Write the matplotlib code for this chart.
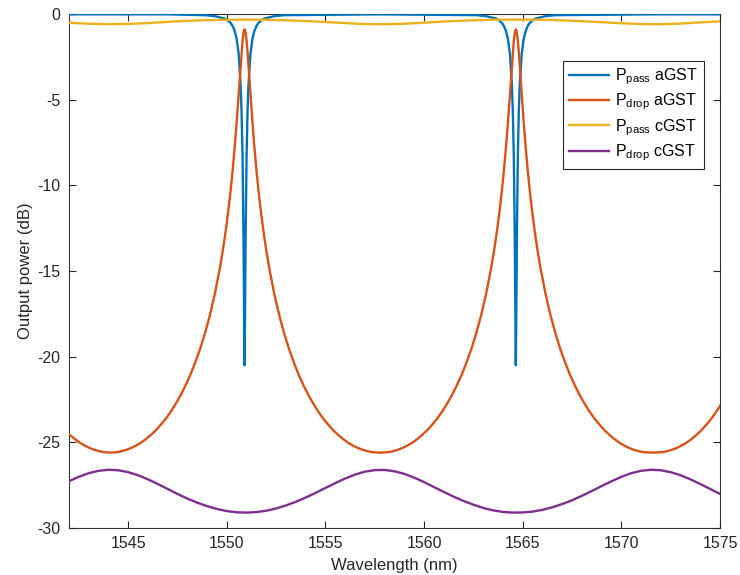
import matplotlib
matplotlib.use("Agg")
import matplotlib.pyplot as plt

# --- values (dB vs nm) ---

# P_pass, amorphous GST (blue, sharp notches)
wl_pass_a = [1542.0, 1547.0, 1548.9, 1549.4, 1549.9, 1550.05, 1550.2, 1550.3, 1550.4,
             1550.5, 1550.6, 1550.7, 1550.75, 1550.8, 1550.85, 1550.875, 1550.9,
             1550.925, 1550.95, 1551.0, 1551.05, 1551.1, 1551.2, 1551.3, 1551.4,
             1551.5, 1551.6, 1551.75, 1551.9, 1552.4, 1552.9, 1557.78,
             1562.65, 1563.15, 1563.65, 1563.8, 1563.95, 1564.05, 1564.15,
             1564.25, 1564.35, 1564.45, 1564.5, 1564.55, 1564.6, 1564.625, 1564.65,
             1564.675, 1564.7, 1564.75, 1564.8, 1564.85, 1564.95, 1565.05, 1565.15,
             1565.25, 1565.35, 1565.5, 1565.65, 1566.15, 1566.65, 1571.6, 1575.0]
pass_a_db = [-0.02, -0.02, -0.07, -0.13, -0.27, -0.37, -0.53, -0.71, -0.99,
             -1.45, -2.31, -4.10, -5.75, -8.46, -13.4, -17.3, -20.5,
             -17.3, -13.4, -8.46, -5.75, -4.10, -2.31, -1.45, -0.99,
             -0.71, -0.53, -0.37, -0.27, -0.13, -0.07, -0.02,
             -0.07, -0.13, -0.27, -0.37, -0.53, -0.71, -0.99,
             -1.45, -2.31, -4.10, -5.75, -8.46, -13.4, -17.3, -20.5,
             -17.3, -13.4, -8.46, -5.75, -4.10, -2.31, -1.45, -0.99,
             -0.71, -0.53, -0.37, -0.27, -0.13, -0.07, -0.02, -0.02]

# P_drop, amorphous GST (orange)
wl_drop_a = [
    # left edge -> first minimum
    1542.0, 1542.3, 1542.55, 1542.8, 1543.05, 1543.3, 1543.55, 1543.75, 1544.1,
    # rising to peak 1
    1544.45, 1544.65, 1544.9, 1545.15, 1545.4, 1545.65, 1545.9, 1546.15, 1546.4,
    1546.65, 1546.9, 1547.15, 1547.4, 1547.65, 1547.9, 1548.15, 1548.4, 1548.65,
    1548.9, 1549.15, 1549.4, 1549.65, 1549.8, 1549.9, 1550.0, 1550.1, 1550.2,
    1550.3, 1550.4, 1550.5, 1550.6, 1550.7, 1550.75, 1550.8, 1550.85, 1550.9,
    # falling after peak 1
    1550.95, 1551.0, 1551.05, 1551.1, 1551.2, 1551.3, 1551.4, 1551.5, 1551.6,
    1551.7, 1551.8, 1551.9, 1552.0, 1552.15, 1552.4, 1552.65, 1552.9, 1553.15,
    1553.4, 1553.65, 1553.9, 1554.15, 1554.4, 1554.65, 1554.9, 1555.15, 1555.4,
    1555.65, 1555.9, 1556.15, 1556.4, 1556.65, 1556.9, 1557.15, 1557.35,
    1557.78,
    # rising to peak 2
    1558.2, 1558.4, 1558.65, 1558.9, 1559.15, 1559.4, 1559.65, 1559.9, 1560.15,
    1560.4, 1560.65, 1560.9, 1561.15, 1561.4, 1561.65, 1561.9, 1562.15, 1562.4,
    1562.65, 1562.9, 1563.15, 1563.4, 1563.55, 1563.65, 1563.75, 1563.85, 1563.95,
    1564.05, 1564.15, 1564.25, 1564.35, 1564.45, 1564.5, 1564.55, 1564.6, 1564.65,
    # falling after peak 2
    1564.7, 1564.75, 1564.8, 1564.85, 1564.95, 1565.05, 1565.15, 1565.25, 1565.35,
    1565.45, 1565.55, 1565.65, 1565.75, 1565.9, 1566.15, 1566.4, 1566.65, 1566.9,
    1567.15, 1567.4, 1567.65, 1567.9, 1568.15, 1568.4, 1568.65, 1568.9, 1569.15,
    1569.4, 1569.65, 1569.9, 1570.15, 1570.4, 1570.65, 1570.9, 1571.1,
    1571.6,
    # minimum 3 -> right edge
    1572.1, 1572.3, 1572.55, 1572.8, 1573.05, 1573.3, 1573.55, 1573.8, 1574.05,
    1574.3, 1574.55, 1574.8, 1575.0]
drop_a_db = [
    -24.52, -24.81, -25.02, -25.19, -25.33, -25.44, -25.52, -25.57, -25.60,
    -25.57, -25.52, -25.44, -25.33, -25.19, -25.02, -24.81, -24.57, -24.30,
    -23.98, -23.63, -23.23, -22.77, -22.27, -21.70, -21.07, -20.34, -19.54,
    -18.61, -17.55, -16.30, -14.82, -13.79, -13.02, -12.18, -11.26, -10.23,
    -9.08, -7.78, -6.33, -4.70, -3.00, -2.21, -1.53, -1.07, -0.90,
    -1.07, -1.53, -2.21, -3.00, -4.70, -6.33, -7.78, -9.08, -10.23,
    -11.26, -12.18, -13.02, -13.79, -14.82, -16.30, -17.55, -18.61, -19.54,
    -20.34, -21.07, -21.70, -22.27, -22.77, -23.23, -23.63, -23.98, -24.30,
    -24.57, -24.81, -25.02, -25.19, -25.33, -25.44, -25.52, -25.57,
    -25.60,
    -25.57, -25.52, -25.44, -25.33, -25.19, -25.02, -24.81, -24.57, -24.30,
    -23.98, -23.63, -23.23, -22.77, -22.27, -21.70, -21.07, -20.34, -19.54,
    -18.61, -17.55, -16.30, -14.82, -13.79, -13.02, -12.18, -11.26, -10.23,
    -9.08, -7.78, -6.33, -4.70, -3.00, -2.21, -1.53, -1.07, -0.90,
    -1.07, -1.53, -2.21, -3.00, -4.70, -6.33, -7.78, -9.08, -10.23,
    -11.26, -12.18, -13.02, -13.79, -14.82, -16.30, -17.55, -18.61, -19.54,
    -20.34, -21.07, -21.70, -22.27, -22.77, -23.23, -23.63, -23.98, -24.30,
    -24.57, -24.81, -25.02, -25.19, -25.33, -25.44, -25.52, -25.57,
    -25.60,
    -25.57, -25.52, -25.44, -25.33, -25.19, -25.02, -24.81, -24.57, -24.30,
    -23.98, -23.63, -23.23, -22.87]

# P_pass, crystalline GST (yellow), every 1 nm
wl_pass_c = list(range(1542, 1576))
pass_c_db = [-0.51, -0.57, -0.60, -0.58, -0.53, -0.46, -0.40, -0.36, -0.34, -0.33,
             -0.34, -0.37, -0.41, -0.47, -0.53, -0.59, -0.60, -0.57, -0.51, -0.44,
             -0.39, -0.35, -0.33, -0.33, -0.34, -0.37, -0.42, -0.48, -0.54, -0.59,
             -0.60, -0.56, -0.49, -0.43]

# P_drop, crystalline GST (purple), every 0.5 nm
wl_drop_c = [1542 + 0.5 * i for i in range(67)]
drop_c_db = [-27.27, -27.01, -26.80, -26.66, -26.60, -26.63, -26.74, -26.92, -27.16, -27.43,
             -27.72, -28.01, -28.28, -28.52, -28.72, -28.89, -29.01, -29.08, -29.10, -29.07,
             -28.99, -28.86, -28.68, -28.47, -28.22, -27.95, -27.66, -27.38, -27.11, -26.88,
             -26.71, -26.62, -26.61, -26.69, -26.84, -27.06, -27.32, -27.61, -27.89, -28.17,
             -28.42, -28.64, -28.83, -28.97, -29.06, -29.10, -29.09, -29.04, -28.94, -28.79,
             -28.60, -28.38, -28.12, -27.84, -27.55, -27.27, -27.01, -26.80, -26.66, -26.60,
             -26.63, -26.74, -26.92, -27.16, -27.43, -27.72, -28.01]

labels = [r"P$_{\mathrm{pass}}$ aGST", r"P$_{\mathrm{drop}}$ aGST",
          r"P$_{\mathrm{pass}}$ cGST", r"P$_{\mathrm{drop}}$ cGST"]
colors = ["#0072BD", "#D95319", "#EDB120", "#7E2F8E"]

plt.rcParams["font.family"] = ["Liberation Sans", "DejaVu Sans"]
plt.rcParams["mathtext.fontset"] = "custom"
plt.rcParams["mathtext.rm"] = "Liberation Sans"
plt.rcParams["mathtext.it"] = "Liberation Sans:italic"
plt.rcParams["axes.unicode_minus"] = False

fig = plt.figure(figsize=(7.4, 5.75), dpi=100)
ax = fig.add_axes([0.0932, 0.0817, 0.8798, 0.894])

lw = 1.7
ax.plot(wl_pass_a, pass_a_db, color=colors[0], lw=lw, label=labels[0])
ax.plot(wl_drop_a, drop_a_db, color=colors[1], lw=lw, label=labels[1])
ax.plot(wl_pass_c, pass_c_db, color=colors[2], lw=lw, label=labels[2])
ax.plot(wl_drop_c, drop_c_db, color=colors[3], lw=lw, label=labels[3])

ax.set_xlim(1542, 1575)
ax.set_ylim(-30, 0)
ax.set_xticks([1545, 1550, 1555, 1560, 1565, 1570, 1575])
ax.set_yticks([-30, -25, -20, -15, -10, -5, 0])
ax.tick_params(direction="in", length=5, width=0.8, top=True, right=True,
               labelsize=11.5, colors="#262626", pad=6)
for s in ax.spines.values():
    s.set_color("#333333")
    s.set_linewidth(0.8)
    s.set_zorder(0)

ax.set_xlabel("Wavelength (nm)", fontsize=12, color="#262626", labelpad=5)
ax.set_ylabel("Output power (dB)", fontsize=12, color="#262626", labelpad=3)

leg = ax.legend(loc="upper right", bbox_to_anchor=(0.975, 0.909), borderaxespad=0,
                fontsize=11.5, fancybox=False, framealpha=1, handlelength=2.5,
                labelspacing=0.3, borderpad=0.35, handletextpad=0.4)
leg.get_frame().set_edgecolor("#262626")
leg.get_frame().set_linewidth(0.8)

fig.savefig("out.png", dpi=100)
